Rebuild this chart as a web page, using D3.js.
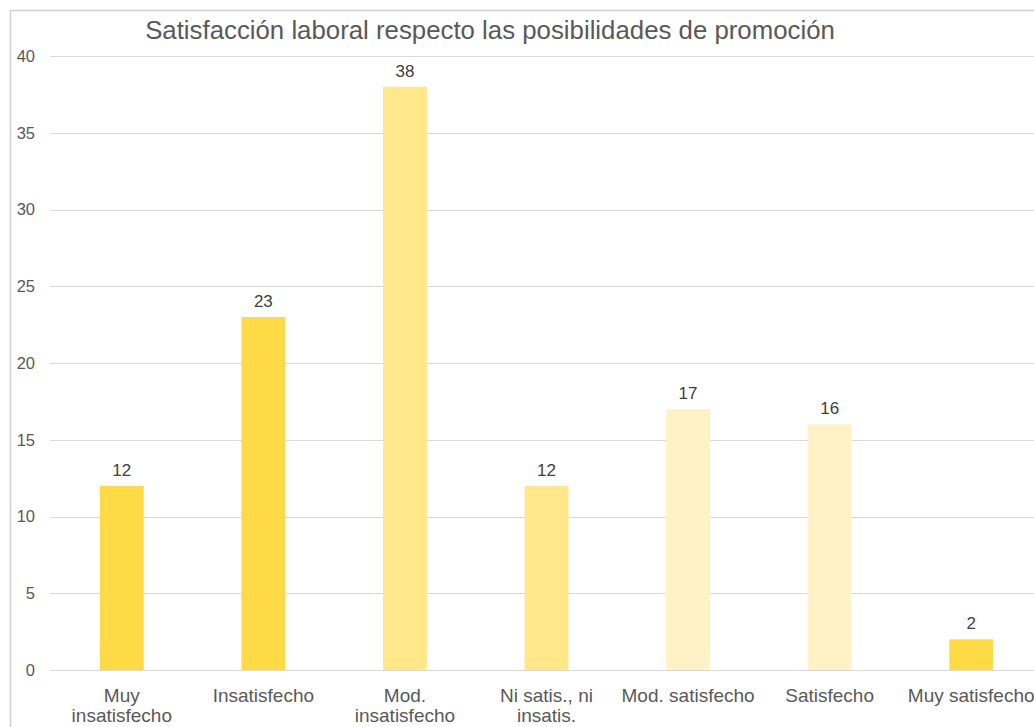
<!DOCTYPE html>
<html>
<head>
<meta charset="utf-8">
<script src="https://cdn.jsdelivr.net/npm/d3@7"></script>
<style>
  html, body { margin: 0; padding: 0; background: #ffffff; overflow: hidden; }
  svg { display: block; font-family: "Liberation Sans", Arial, Helvetica, sans-serif; }
</style>
</head>
<body>
<svg id="chart" width="1034" height="727"></svg>
<script>
// Category labels (each entry holds the lines of the axis label)
const categories = [
  ["Muy", "insatisfecho"],
  ["Insatisfecho"],
  ["Mod.", "insatisfecho"],
  ["Ni satis., ni", "insatis."],
  ["Mod. satisfecho"],
  ["Satisfecho"],
  ["Muy satisfecho"]
];
// Number of responses per category
const values = [12, 23, 38, 12, 17, 16, 2];
// Fill shade per bar
const barColors = ["#FFDA47", "#FFDA47", "#FFE78A", "#FFE78A", "#FFF2C6", "#FFF2C6", "#FFDA47"];
// Y-axis ticks
const yTicks = [0, 5, 10, 15, 20, 25, 30, 35, 40];
const titleText = "Satisfacción laboral respecto las posibilidades de promoción";

const svg = d3.select("#chart");
const W = 1034, H = 727;

// Chart frame (extends past the window on the right and bottom)
svg.append("rect")
  .attr("x", 10.5).attr("y", 10.5)
  .attr("width", 1100).attr("height", 800)
  .attr("fill", "#ffffff")
  .attr("stroke", "#d0d0d0")
  .attr("stroke-width", 1.5);

const plot = { left: 51, right: 1042, top: 56, bottom: 670 };

const x = d3.scaleBand()
  .domain(d3.range(categories.length))
  .range([plot.left, plot.right])
  .paddingInner(0.69)
  .paddingOuter(0.345);

const y = d3.scaleLinear()
  .domain([0, 40])
  .range([plot.bottom, plot.top]);

// Horizontal gridlines
svg.append("g")
  .selectAll("line")
  .data(yTicks)
  .join("line")
  .attr("x1", 50).attr("x2", W + 20)
  .attr("y1", d => Math.round(y(d)) + 0.5)
  .attr("y2", d => Math.round(y(d)) + 0.5)
  .attr("stroke", "#d9d9d9")
  .attr("stroke-width", 1);

// Y-axis tick labels
const yAxis = d3.axisLeft(y).tickValues(yTicks).tickSize(0).tickPadding(0);
const gy = svg.append("g")
  .attr("transform", `translate(35,0)`)
  .call(yAxis);
gy.select(".domain").remove();
gy.selectAll("text")
  .attr("fill", "#595959")
  .style("font-size", "16.5px")
  .style("font-family", "'Liberation Sans', Arial, sans-serif");

// Bars
svg.append("g")
  .selectAll("rect")
  .data(values)
  .join("rect")
  .attr("x", (d, i) => x(i))
  .attr("width", x.bandwidth())
  .attr("y", d => y(d))
  .attr("height", d => y(0) - y(d))
  .attr("fill", (d, i) => barColors[i]);

// Value labels above bars
svg.append("g")
  .selectAll("text")
  .data(values)
  .join("text")
  .attr("x", (d, i) => x(i) + x.bandwidth() / 2)
  .attr("y", d => y(d) - 10)
  .attr("text-anchor", "middle")
  .attr("fill", "#404040")
  .style("font-size", "17px")
  .text(d => d);

// Category labels below the axis
const xAxis = d3.axisBottom(x).tickSize(0).tickFormat(() => "");
const gx = svg.append("g")
  .attr("transform", `translate(0,${plot.bottom})`)
  .call(xAxis);
gx.select(".domain").remove();
gx.selectAll(".tick text").remove();
gx.selectAll(".tick")
  .append("text")
  .attr("text-anchor", "middle")
  .attr("fill", "#595959")
  .style("font-size", "19px")
  .each(function(i) {
    const t = d3.select(this);
    categories[i].forEach((line, k) => {
      t.append("tspan")
        .attr("x", 0)
        .attr("y", 32 + k * 20)
        .text(line);
    });
  });

// Title
svg.append("text")
  .attr("x", 490)
  .attr("y", 38.5)
  .attr("text-anchor", "middle")
  .attr("fill", "#595959")
  .style("font-size", "25.8px")
  .text(titleText);
</script>
</body>
</html>
